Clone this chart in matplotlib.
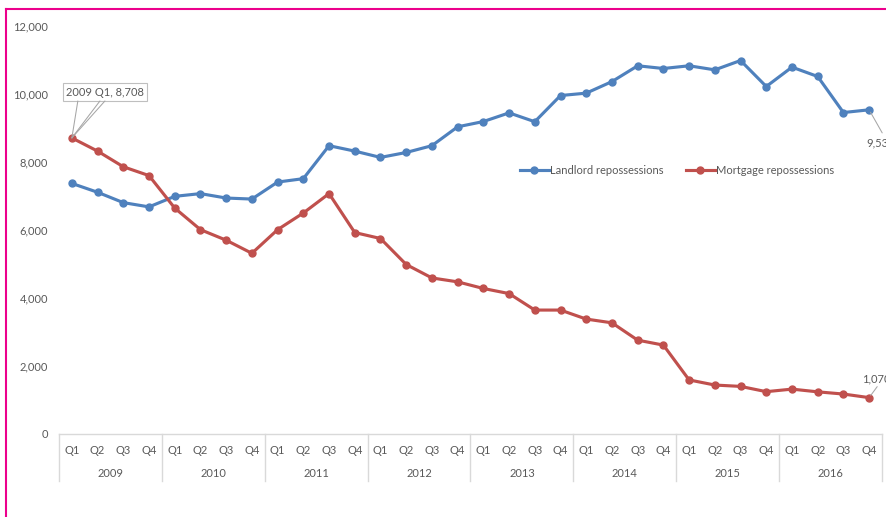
import numpy as np
import matplotlib.pyplot as plt
from matplotlib.lines import Line2D
import matplotlib.transforms as mtransforms

plt.rcParams['font.family'] = ['Lato', 'DejaVu Sans']

years = ['2009', '2010', '2011', '2012', '2013', '2014', '2015', '2016']
quarters = ['Q1', 'Q2', 'Q3', 'Q4']

landlord = [7370, 7110, 6805, 6680, 6990, 7070, 6940, 6910,
            7410, 7510, 8480, 8320, 8135, 8280, 8480, 9035,
            9190, 9445, 9185, 9955, 10025, 10365, 10830, 10750,
            10830, 10710, 10985, 10220, 10790, 10515, 9455, 9535]
mortgage = [8708, 8320, 7860, 7600, 6645, 6010, 5700, 5315,
            6010, 6500, 7070, 5925, 5750, 4985, 4590, 4475,
            4280, 4130, 3645, 3645, 3380, 3270, 2760, 2615,
            1590, 1440, 1400, 1245, 1320, 1240, 1175, 1070]

blue = '#4F81BD'
red = '#C0504D'
txt = '#595959'
gray = '#D9D9D9'
fs = 8

W, H = 887, 517
fig = plt.figure(figsize=(W / 100, H / 100), dpi=100)
ax = fig.add_axes([59 / W, (H - 434) / H, (882 - 59) / W, (434 - 26) / H])

x = np.arange(len(landlord))
ax.plot(x, landlord, color=blue, lw=2.25, marker='o', ms=5, label='Landlord repossessions', clip_on=False)
ax.plot(x, mortgage, color=red, lw=2.25, marker='o', ms=5, label='Mortgage repossessions', clip_on=False)

ax.set_xlim(-0.5, len(x) - 0.5)
ax.set_ylim(0, 12000)
ax.set_yticks(range(0, 12001, 2000))
ax.set_yticklabels([f'{v:,}' for v in range(0, 12001, 2000)])
ax.tick_params(axis='y', length=0, pad=8, labelsize=fs, labelcolor=txt)
ax.set_xticks([])
for s in ['top', 'right', 'left']:
    ax.spines[s].set_visible(False)
ax.spines['bottom'].set_color(gray)
ax.spines['bottom'].set_linewidth(1)

# two-level category axis
tr = mtransforms.blended_transform_factory(ax.transData, ax.transAxes)
for i in range(len(x)):
    ax.text(i, -0.040, quarters[i % 4], transform=tr, ha='center', va='center',
            fontsize=fs, color=txt)
for j, yr in enumerate(years):
    ax.text(j * 4 + 1.5, -0.097, yr, transform=tr, ha='center', va='center',
            fontsize=fs, color=txt)
for b in range(len(years) + 1):
    ax.plot([b * 4 - 0.5, b * 4 - 0.5], [0, -0.115], transform=tr, color=gray,
            lw=1, clip_on=False)

leg = ax.legend(loc='center left', bbox_to_anchor=(520 / W, 1 - 170 / H),
                bbox_transform=fig.transFigure, ncol=2, frameon=False,
                fontsize=fs, handlelength=2.6, handletextpad=0.1,
                columnspacing=2.0, borderpad=0, borderaxespad=0)
for t in leg.get_texts():
    t.set_color(txt)

# data labels
lc = '#A6A6A6'
ax.annotate('2009 Q1, 8,708', xy=(0, mortgage[0]), xytext=(24, 33),
            textcoords='offset points', ha='center', va='center',
            fontsize=fs, color=txt,
            bbox=dict(boxstyle='square,pad=0.3', fc='white', ec='#BFBFBF', lw=0.8))
for dx in [4.3, 20.2, 23.8]:
    ax.annotate('', xy=(0, mortgage[0]), xytext=(dx, 26.6), textcoords='offset points',
                arrowprops=dict(arrowstyle='-', color=lc, lw=0.75, shrinkA=0, shrinkB=0))

n = len(x) - 1
ax.annotate(f'{landlord[n]:,}', xy=(n, landlord[n]), xytext=(-2.2, -23.5),
            textcoords='offset points', ha='left', va='center', fontsize=fs,
            color=txt, annotation_clip=False)
ax.annotate('', xy=(n, landlord[n]), xytext=(9.4, -16.6), textcoords='offset points',
            arrowprops=dict(arrowstyle='-', color=lc, lw=0.75, shrinkA=0, shrinkB=2))
ax.annotate(f'{mortgage[n]:,}', xy=(n, mortgage[n]), xytext=(-5.0, 13.2),
            textcoords='offset points', ha='left', va='center', fontsize=fs,
            color=txt, annotation_clip=False)
ax.annotate('', xy=(n, mortgage[n]), xytext=(5.8, 7.9), textcoords='offset points',
            arrowprops=dict(arrowstyle='-', color=lc, lw=0.75, shrinkA=0, shrinkB=2))

# pink frame (left and top edges visible)
pink = '#EC008C'
fig.add_artist(Line2D([6.3 / W, 6.3 / W], [0, 1 - 9.3 / H], color=pink, lw=1.5))
fig.add_artist(Line2D([6.3 / W, 1], [1 - 9.3 / H, 1 - 9.3 / H], color=pink, lw=1.5))

fig.savefig('out.png', dpi=100)
